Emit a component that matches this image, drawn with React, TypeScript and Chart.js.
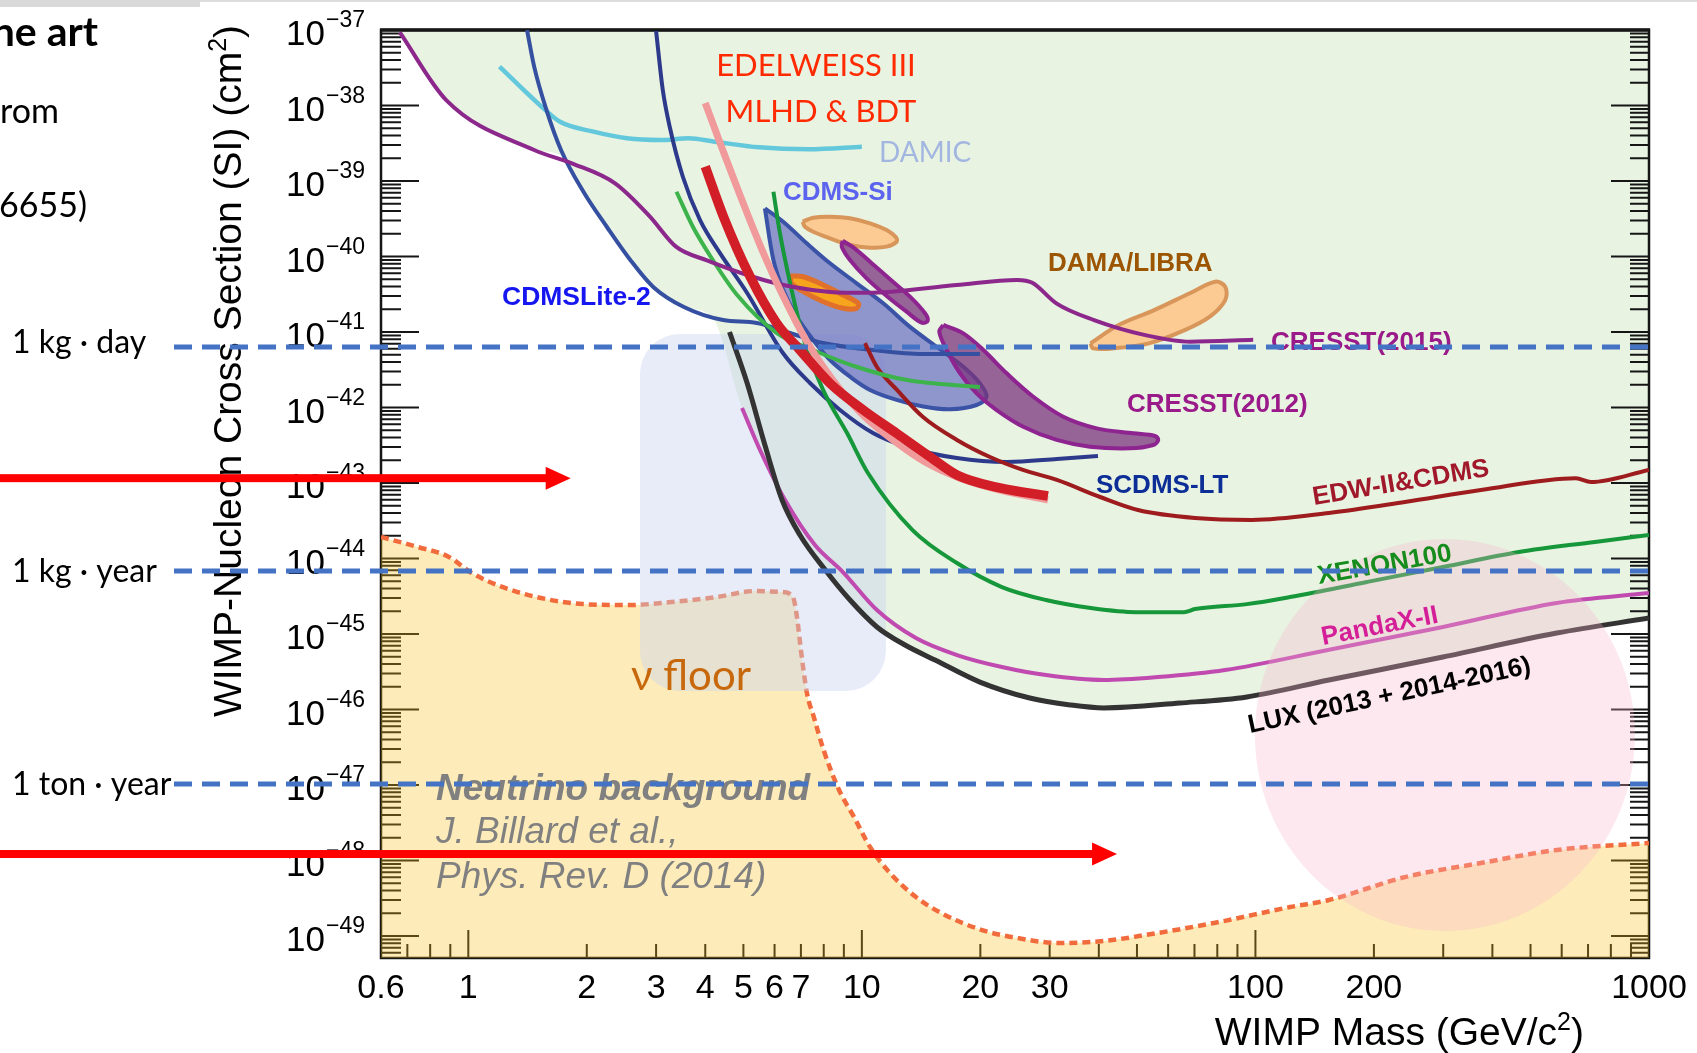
import { useEffect, useRef } from 'react';
import { Chart, registerables } from 'chart.js';

Chart.register(...registerables);

const CANVAS_W = 1697;
const CANVAS_H = 1053;
const ARIAL = '"Liberation Sans", Arial, sans-serif';
const CAL = 'Lato, "Open Sans", sans-serif';

// Axis limits: WIMP mass (GeV/c^2) and SI cross section (cm^2)
const massLimits = [0.6, 1000];
const sigmaLimits = [5.12e-50, 1e-37];

const massTickLabels = [0.6, 1, 2, 3, 4, 5, 6, 7, 10, 20, 30, 100, 200, 1000];
const sigmaTickExponents = [-37, -38, -39, -40, -41, -42, -43, -44, -45, -46, -47, -48, -49];

// Parameter space already excluded (lower envelope of the limits)
const excludedMass = [0.665, 0.88, 1.47, 1.75, 1.97, 2.25, 2.58, 2.95, 3.53, 4.16, 4.96, 5.51, 6.27, 6.96, 8.11, 9.33, 10.92, 12.87, 15.34, 19.95, 26.7, 33.8, 41.2, 64.3, 95.1, 153.7, 299.5, 583, 1000];
const excludedSigma = [1.0e-37, 1.17e-38, 2.57e-39, 2.09e-39, 6.93e-40, 2.46e-40, 9.0e-41, 3.95e-41, 2.14e-41, 1.58e-41, 9.8e-43, 2.74e-43, 5.96e-44, 2.05e-44, 6.83e-45, 2.82e-45, 1.24e-45, 7.15e-46, 4.53e-46, 2.31e-46, 1.42e-46, 1.15e-46, 1.05e-46, 1.22e-46, 1.47e-46, 2.46e-46, 4.96e-46, 1.03e-45, 1.63e-45];

// Neutrino background (Billard et al. 2014)
const floorMass = [0.6, 0.745, 0.893, 1.02, 1.22, 1.53, 1.96, 2.56, 3.27, 4.28, 5.35, 6.27, 6.68, 6.84, 7.0, 7.25, 7.55, 8.01, 8.75, 9.55, 10.49, 11.79, 13.72, 15.89, 20.2, 24.9, 31.7, 41.2, 52.4, 78.5, 122.4, 153.7, 239.8, 374, 583, 1000];
const floorSigma = [1.93e-44, 1.42e-44, 1.05e-44, 6.43e-45, 4.2e-45, 3.0e-45, 2.49e-45, 2.42e-45, 2.65e-45, 3.09e-45, 3.71e-45, 3.6e-45, 3.09e-45, 1.68e-45, 6.14e-46, 1.66e-46, 7.96e-47, 2.82e-47, 8.59e-48, 3.77e-48, 1.51e-48, 6.83e-49, 3.29e-49, 2.02e-49, 1.2e-49, 9.4e-50, 8.07e-50, 8.59e-50, 1.03e-49, 1.49e-49, 2.42e-49, 3.0e-49, 6.04e-49, 9.27e-49, 1.38e-48, 1.71e-48];

// Signal regions
const cdmsSiMass = [5.67, 6.31, 7.24, 8.30, 9.70, 11.33, 13.25, 15.49, 18.10, 19.95, 20.75, 19.57, 16.74, 14.32, 12.26, 10.49, 9.33, 8.30, 7.52, 6.83, 6.31, 5.96];
const cdmsSiSigma = [4.35e-40, 2.89e-40, 1.50e-40, 8.13e-41, 4.42e-41, 2.40e-41, 1.17e-41, 6.38e-42, 3.47e-42, 2.09e-42, 1.39e-42, 1.08e-42, 9.46e-43, 1.03e-42, 1.26e-42, 1.71e-42, 2.56e-42, 4.26e-42, 7.83e-42, 1.60e-41, 3.60e-41, 9.0e-41];

const damaLowMass = [7.07, 7.52, 8.30, 9.33, 10.49, 11.56, 12.21, 12.26, 11.56, 10.49, 9.33, 8.30, 7.52, 7.17];
const damaLowSigma = [2.89e-40, 3.27e-40, 3.37e-40, 3.21e-40, 2.75e-40, 2.24e-40, 1.79e-40, 1.57e-40, 1.35e-40, 1.31e-40, 1.42e-40, 1.74e-40, 2.13e-40, 2.48e-40];

const damaHighMass = [38.1, 44.9, 55.3, 68.1, 79.0, 83.8, 83.8, 76.6, 66.1, 53.6, 43.6, 38.7];
const damaHighSigma = [7.08e-42, 1.24e-41, 1.95e-41, 3.26e-41, 4.64e-41, 3.98e-41, 2.65e-41, 1.60e-41, 1.06e-41, 7.08e-42, 6.08e-42, 6.08e-42];

const cresst2012aMass = [8.94, 9.51, 10.49, 11.79, 13.25, 14.47, 14.70, 14.19, 12.99, 11.56, 10.28, 9.33, 8.89];
const cresst2012aSigma = [1.62e-40, 1.32e-40, 8.53e-41, 4.99e-41, 2.94e-41, 1.77e-41, 1.41e-41, 1.33e-41, 1.86e-41, 3.0e-41, 5.14e-41, 9.0e-41, 1.35e-40];

const cresst2012bMass = [16.10, 18.10, 20.35, 23.33, 27.26, 32.49, 39.51, 48.94, 55.55, 56.63, 55.0, 48.0, 37.98, 31.26, 25.71, 22.0, 19.57, 17.76, 16.43, 15.73];
const cresst2012bSigma = [1.24e-41, 9.6e-42, 5.78e-42, 2.84e-42, 1.39e-42, 7.55e-43, 5.3e-43, 4.55e-43, 4.2e-43, 3.72e-43, 3.19e-43, 2.88e-43, 3.03e-43, 3.72e-43, 5.57e-43, 9.27e-43, 1.54e-42, 2.84e-42, 5.78e-42, 1.01e-41];

const cogentMass = [6.57, 7.10, 7.98, 8.97, 9.79, 9.70, 8.97, 7.98, 7.10, 6.63];
const cogentSigma = [5.52e-41, 5.4e-41, 4.2e-41, 3.09e-41, 2.40e-41, 2.06e-41, 2.06e-41, 2.52e-41, 3.42e-41, 4.42e-41];

// Exclusion limits
const damicMass = [1.20, 1.57, 1.71, 2.08, 2.53, 3.07, 3.63, 4.22, 5.48, 7.34, 10.0];
const damicSigma = [3.27e-38, 8.7e-39, 6.1e-39, 4.5e-39, 3.68e-39, 3.49e-39, 3.68e-39, 3.32e-39, 2.79e-39, 2.63e-39, 2.84e-39];

const cdmsliteMass = [1.41, 1.47, 1.58, 1.72, 1.97, 2.25, 2.58, 2.95, 3.53, 4.44, 5.41, 6.57, 7.97, 10.67, 14.30, 19.95];
const cdmsliteSigma = [1.0e-37, 3.27e-38, 8.7e-39, 2.58e-39, 6.93e-40, 2.46e-40, 9.0e-41, 3.95e-41, 2.14e-41, 1.44e-41, 1.32e-41, 9.7e-42, 7.14e-42, 5.78e-42, 5.12e-42, 5.12e-42];

const scdmsLtMass = [3.0, 3.12, 3.25, 3.51, 3.88, 4.36, 5.11, 6.30, 7.38, 8.80, 10.67, 13.02, 17.44, 23.37, 31.3, 39.8];
const scdmsLtSigma = [9.7e-38, 1.60e-38, 5.19e-39, 1.13e-39, 3.04e-40, 1.11e-40, 3.29e-41, 5.27e-42, 2.11e-42, 9.27e-43, 4.59e-43, 3.0e-43, 2.14e-43, 1.90e-43, 2.08e-43, 2.28e-43];

const edwCdmsMass = [10.18, 10.92, 12.28, 14.30, 17.44, 21.16, 25.66, 31.3, 40.3, 50.3, 70.2, 98.0, 153.7, 239.8, 374, 652, 712, 1000];
const edwCdmsSigma = [7.14e-42, 3.44e-42, 1.71e-42, 7.48e-43, 3.72e-43, 2.21e-43, 1.49e-43, 1.10e-43, 6.53e-44, 4.39e-44, 3.44e-44, 3.24e-44, 4.01e-44, 5.60e-44, 8.07e-44, 1.16e-43, 1.03e-43, 1.49e-43];

const xenon10Mass = [3.38, 3.72, 4.18, 4.82, 6.08, 7.51, 9.72, 13.02, 19.95];
const xenon10Sigma = [7.21e-40, 2.48e-40, 9.0e-41, 3.09e-41, 9.7e-42, 5.78e-42, 3.44e-42, 2.31e-42, 1.87e-42];

const xenon100Mass = [5.96, 6.19, 6.57, 7.09, 7.97, 9.17, 10.36, 13.45, 17.44, 22.69, 29.36, 38.2, 49.7, 65.8, 70.2, 95.1, 122.4, 192, 299.5, 467, 729, 1000];
const xenon100Sigma = [7.21e-40, 2.05e-40, 4.46e-41, 8.59e-42, 1.71e-42, 4.59e-43, 1.36e-43, 2.38e-44, 8.71e-45, 4.19e-45, 2.82e-45, 2.21e-45, 1.95e-45, 1.95e-45, 2.14e-45, 2.49e-45, 3.09e-45, 4.89e-45, 7.71e-45, 1.22e-44, 1.66e-44, 2.05e-44];

const pandaxMass = [4.96, 5.51, 6.38, 7.60, 8.95, 10.92, 13.72, 17.44, 22.69, 29.36, 41.2, 56.5, 83.7, 152.8, 299.5, 583, 1000];
const pandaxSigma = [9.84e-43, 2.74e-43, 5.96e-44, 1.51e-44, 6.62e-45, 2.08e-45, 8.85e-46, 5.27e-46, 3.66e-46, 2.86e-46, 2.46e-46, 2.69e-46, 3.33e-46, 6.14e-46, 1.24e-45, 2.58e-45, 3.49e-45];

const luxMass = [4.61, 5.11, 5.67, 6.27, 6.96, 8.11, 9.33, 10.92, 12.87, 15.34, 19.95, 26.7, 33.8, 41.2, 64.3, 95.1, 153.7, 299.5, 583, 1000];
const luxSigma = [1.0e-41, 2.11e-42, 3.19e-43, 5.96e-44, 2.05e-44, 6.83e-45, 2.82e-45, 1.24e-45, 7.15e-46, 4.53e-46, 2.31e-46, 1.42e-46, 1.15e-46, 1.05e-46, 1.22e-46, 1.47e-46, 2.46e-46, 4.96e-46, 1.03e-45, 1.63e-45];

const cresst2015Mass = [0.67, 0.88, 1.47, 1.84, 2.36, 2.89, 3.37, 4.04, 5.28, 6.6, 8.3, 10.3, 17.4, 24.8, 27.1, 31.2, 38.9, 52.5, 68.2, 98.7];
const cresst2015Sigma = [9.3e-38, 1.17e-38, 2.57e-39, 1.70e-39, 9.3e-40, 3.4e-40, 1.35e-40, 8.9e-41, 5.4e-41, 4.0e-41, 3.4e-41, 3.3e-41, 4.2e-41, 4.9e-41, 4.5e-41, 2.4e-41, 1.44e-41, 9.1e-42, 7.45e-42, 7.9e-42];

const edwBdtMass = [4.0, 4.41, 4.90, 5.51, 6.27, 7.21, 8.44, 10.06, 12.28, 14.47, 17.75, 22.43, 29.7];
const edwBdtSigma = [1.08e-38, 2.74e-39, 6.53e-40, 1.42e-40, 3.18e-41, 7.83e-42, 2.31e-42, 7.96e-43, 3.39e-43, 1.90e-43, 1.16e-43, 8.07e-44, 5.96e-44];

const edwMlhdMass = [4.0, 4.45, 5.20, 6.08, 6.96, 8.30, 10.08, 12.26, 14.89, 17.44, 22.43, 29.7];
const edwMlhdSigma = [1.55e-39, 3.37e-40, 5.4e-41, 1.30e-41, 5.78e-42, 2.09e-42, 9.27e-43, 4.55e-43, 2.23e-43, 1.28e-43, 8.6e-44, 6.73e-44];

// Shaded boxes: neutrino-floor band and projected reach
const floorBoxMass = [2.73, 11.51];
const floorBoxSigma = [9.4e-42, 1.76e-46];
const haloCentre = [303, 4.59e-47];

// Exposure sensitivity levels
const exposureLabels = ['1 kg · day', '1 kg · year', '1 ton · year'];
const exposureSigma = [6.33e-42, 6.83e-45, 1.03e-47];
const exposureTextDy = [6, 11, 11];

// Arrows
const arrowSigma = [1.16e-43, 1.22e-48];
const arrowTipMass = [1.82, 44.5];

type Pt = { x: number; y: number };
const pts = (m: number[], s: number[]): Pt[] => m.map((x, i) => ({ x, y: s[i] }));
const closed = (m: number[], s: number[]): Pt[] => {
  const p = pts(m, s);
  return [...p, p[0]];
};

const curve = (label: string, m: number[], s: number[], color: string, width: number, extra: any = {}) => ({
  label,
  data: pts(m, s),
  borderColor: color,
  backgroundColor: color,
  borderWidth: width,
  fill: false,
  pointRadius: 0,
  cubicInterpolationMode: 'monotone',
  ...extra,
});

const region = (label: string, m: number[], s: number[], fillColor: string, lineColor: string, width: number) => ({
  label,
  data: closed(m, s),
  borderColor: lineColor,
  backgroundColor: fillColor,
  borderWidth: width,
  fill: 'shape',
  pointRadius: 0,
  tension: 0.35,
});

// Datasets listed bottom-to-top
const layers: any[] = [
  curve('Excluded', excludedMass, excludedSigma, 'rgba(0,0,0,0)', 1, { fill: 'end', backgroundColor: '#e8f3e2' }),
  curve('Neutrino floor', floorMass, floorSigma, '#f26b3d', 4.5, {
    fill: 'start',
    backgroundColor: 'rgba(248,192,22,0.3)',
    borderDash: [8, 5],
  }),
  region('CDMS-Si', cdmsSiMass, cdmsSiSigma, 'rgba(108,114,196,0.72)', '#3b53a6', 4),
  region('DAMA/LIBRA Na', damaLowMass, damaLowSigma, '#fccb93', '#d8965a', 4),
  region('DAMA/LIBRA I', damaHighMass, damaHighSigma, '#fccb93', '#d8965a', 4),
  region('CRESST(2012) M2', cresst2012aMass, cresst2012aSigma, 'rgba(123,52,125,0.75)', '#8e2490', 4),
  region('CRESST(2012) M1', cresst2012bMass, cresst2012bSigma, 'rgba(123,52,125,0.75)', '#8e2490', 4),
  region('CoGeNT', cogentMass, cogentSigma, '#f7a51d', '#e0702a', 5),
  curve('DAMIC', damicMass, damicSigma, '#64c8dc', 4.5),
  curve('CDMSLite-2', cdmsliteMass, cdmsliteSigma, '#3550a0', 4),
  curve('SCDMS-LT', scdmsLtMass, scdmsLtSigma, '#2d3a8c', 4),
  curve('EDW-II&CDMS', edwCdmsMass, edwCdmsSigma, '#9e1b1e', 4),
  curve('XENON10', xenon10Mass, xenon10Sigma, '#3cb44b', 4),
  curve('XENON100', xenon100Mass, xenon100Sigma, '#15973a', 4),
  curve('PandaX-II', pandaxMass, pandaxSigma, '#c04ab0', 4),
  curve('LUX', luxMass, luxSigma, '#333333', 5),
  curve('CRESST(2015)', cresst2015Mass, cresst2015Sigma, '#8c288c', 4),
  curve('EDELWEISS III BDT', edwBdtMass, edwBdtSigma, '#f19a9b', 7),
  curve('EDELWEISS III MLHD', edwMlhdMass, edwMlhdSigma, '#d21e26', 9.5),
];
layers.forEach((d, i) => {
  d.order = layers.length - i;
});

// Experiment and reference labels
const textLabels = [
  { text: 'EDELWEISS III', x: 816, y: 76, font: `31px ${CAL}`, color: '#ff2a00', align: 'center', angle: 0 },
  { text: 'MLHD & BDT', x: 821, y: 122, font: `31px ${CAL}`, color: '#ff2a00', align: 'center', angle: 0 },
  { text: 'DAMIC', x: 879, y: 162, font: `28px ${CAL}`, color: '#a2b6e0', align: 'left', angle: 0 },
  { text: 'CDMS-Si', x: 783, y: 200, font: `bold 26px ${ARIAL}`, color: '#5c63ee', align: 'left', angle: 0 },
  { text: 'DAMA/LIBRA', x: 1048, y: 271, font: `bold 26px ${ARIAL}`, color: '#9c5500', align: 'left', angle: 0 },
  { text: 'CDMSLite-2', x: 502, y: 305, font: `bold 26.5px ${ARIAL}`, color: '#1616f0', align: 'left', angle: 0 },
  { text: 'CRESST(2015)', x: 1271, y: 350, font: `bold 26px ${ARIAL}`, color: '#9a1a8a', align: 'left', angle: 0 },
  { text: 'CRESST(2012)', x: 1127, y: 412, font: `bold 26px ${ARIAL}`, color: '#9a1a8a', align: 'left', angle: 0 },
  { text: 'SCDMS-LT', x: 1096, y: 493, font: `bold 26px ${ARIAL}`, color: '#0c2e96', align: 'left', angle: 0 },
  { text: 'EDW-II&CDMS', x: 1314, y: 505, font: `bold 26px ${ARIAL}`, color: '#a0182a', align: 'left', angle: -9.5 },
  { text: 'XENON100', x: 1319, y: 584, font: `bold 26px ${ARIAL}`, color: '#168c1c', align: 'left', angle: -10 },
  { text: 'PandaX-II', x: 1323, y: 645, font: `bold 26px ${ARIAL}`, color: '#d41f98', align: 'left', angle: -11 },
  { text: 'LUX (2013 + 2014-2016)', x: 1250, y: 733, font: `bold 26px ${ARIAL}`, color: '#000000', align: 'left', angle: -12 },
  { text: 'ν floor', x: 631, y: 690, font: `42px ${CAL}`, color: '#c8680c', align: 'left', angle: 0 },
  { text: 'Neutrino background', x: 436, y: 800, font: `italic bold 37px ${ARIAL}`, color: '#808080', align: 'left', angle: 0 },
  { text: 'J. Billard et al.,', x: 436, y: 843, font: `italic 37px ${ARIAL}`, color: '#808080', align: 'left', angle: 0 },
  { text: 'Phys. Rev. D (2014)', x: 436, y: 888, font: `italic 37px ${ARIAL}`, color: '#808080', align: 'left', angle: 0 },
];

function drawRich(ctx: CanvasRenderingContext2D, parts: { t: string; sup?: boolean }[], x: number, y: number, size: number, supSize: number, rise: number, align: string) {
  const base = `${size}px ${ARIAL}`;
  const small = `${supSize}px ${ARIAL}`;
  const widths = parts.map((p) => {
    ctx.font = p.sup ? small : base;
    return ctx.measureText(p.t).width;
  });
  const total = widths.reduce((a, b) => a + b, 0);
  let cx = align === 'right' ? x - total : align === 'center' ? x - total / 2 : x;
  ctx.textAlign = 'left';
  parts.forEach((p, i) => {
    ctx.font = p.sup ? small : base;
    ctx.fillText(p.t, cx, p.sup ? y - rise : y);
    cx += widths[i];
  });
}

function drawAxesFrame(chart: any) {
  const { ctx, chartArea: a } = chart;
  const xs = chart.scales.x;
  const ys = chart.scales.y;
  ctx.save();
  ctx.strokeStyle = '#161616';
  ctx.lineWidth = 2;
  ctx.beginPath();
  for (let e = -50; e <= -37; e++) {
    for (let k = 1; k <= 9; k++) {
      const v = k * Math.pow(10, e);
      if (v < sigmaLimits[0] * 1.0001 || v > sigmaLimits[1] * 1.0001) continue;
      const p = ys.getPixelForValue(v);
      const major = k === 1;
      ctx.moveTo(a.left, p);
      ctx.lineTo(a.left + (major ? 38 : 20), p);
      ctx.moveTo(a.right, p);
      ctx.lineTo(a.right - (major ? 38 : 19), p);
    }
  }
  for (let e = -1; e <= 3; e++) {
    for (let k = 1; k <= 9; k++) {
      const v = k * Math.pow(10, e);
      if (v <= massLimits[0] * 1.0001 || v >= massLimits[1] * 0.9999) continue;
      const p = xs.getPixelForValue(v);
      ctx.moveTo(p, a.bottom);
      ctx.lineTo(p, a.bottom - (k === 1 ? 28 : 14));
    }
  }
  ctx.stroke();
  ctx.lineWidth = 2.5;
  ctx.strokeRect(a.left, a.top, a.right - a.left, a.bottom - a.top);
  ctx.lineWidth = 3.5;
  ctx.beginPath();
  ctx.moveTo(a.left - 1, a.top);
  ctx.lineTo(a.right + 1, a.top);
  ctx.stroke();
  ctx.restore();
}

function drawFloorBox(chart: any) {
  const { ctx } = chart;
  const xs = chart.scales.x;
  const ys = chart.scales.y;
  const l = xs.getPixelForValue(floorBoxMass[0]);
  const r = xs.getPixelForValue(floorBoxMass[1]);
  const t = ys.getPixelForValue(floorBoxSigma[0]);
  const b = ys.getPixelForValue(floorBoxSigma[1]);
  const rad = 40;
  ctx.save();
  ctx.fillStyle = 'rgba(198,210,238,0.42)';
  ctx.beginPath();
  ctx.moveTo(l + rad, t);
  ctx.lineTo(r - rad, t);
  ctx.arcTo(r, t, r, t + rad, rad);
  ctx.lineTo(r, b - rad);
  ctx.arcTo(r, b, r - rad, b, rad);
  ctx.lineTo(l + rad, b);
  ctx.arcTo(l, b, l, b - rad, rad);
  ctx.lineTo(l, t + rad);
  ctx.arcTo(l, t, l + rad, t, rad);
  ctx.closePath();
  ctx.fill();
  ctx.restore();
}

const decorPlugin = {
  id: 'wimpDecor',
  beforeDraw(chart: any) {
    const { ctx } = chart;
    ctx.save();
    ctx.fillStyle = '#d9d9d9';
    ctx.fillRect(0, 0, 200, 7);
    ctx.fillStyle = '#dcdcdc';
    ctx.fillRect(200, 0, CANVAS_W - 200, 2);
    ctx.restore();
  },
  afterDatasetDraw(chart: any, args: any) {
    const ds = chart.data.datasets[args.index];
    if (ds.label === 'Excluded') drawAxesFrame(chart);
    if (ds.label === 'Neutrino floor') drawFloorBox(chart);
  },
  afterDatasetsDraw(chart: any) {
    const { ctx, chartArea: a } = chart;
    const xs = chart.scales.x;
    const ys = chart.scales.y;
    ctx.save();

    // projected sensitivity halo
    ctx.fillStyle = 'rgba(248,178,206,0.3)';
    ctx.beginPath();
    ctx.ellipse(xs.getPixelForValue(haloCentre[0]), ys.getPixelForValue(haloCentre[1]), 190, 196, 0, 0, Math.PI * 2);
    ctx.fill();

    // tick labels
    ctx.fillStyle = '#000';
    ctx.textBaseline = 'alphabetic';
    sigmaTickExponents.forEach((e) => {
      const p = ys.getPixelForValue(Math.pow(10, e));
      ctx.font = `35px ${ARIAL}`;
      ctx.textAlign = 'right';
      ctx.fillText('10', 325, p + 15);
      ctx.font = `23px ${ARIAL}`;
      ctx.textAlign = 'left';
      ctx.fillText('\u2212' + Math.abs(e), 326, p - 3);
    });
    ctx.font = `34px ${ARIAL}`;
    ctx.textAlign = 'center';
    massTickLabels.forEach((m) => {
      ctx.fillText(String(m), xs.getPixelForValue(m), 998);
    });

    // axis titles
    drawRich(ctx, [{ t: 'WIMP Mass (GeV/c' }, { t: '2', sup: true }, { t: ')' }], 1584, 1045, 39, 25, 15, 'right');
    ctx.save();
    ctx.translate(241, 371);
    ctx.rotate(-Math.PI / 2);
    drawRich(ctx, [{ t: 'WIMP-Nucleon Cross Section (SI) (cm' }, { t: '2', sup: true }, { t: ')' }], 0, 0, 39, 25, 15, 'center');
    ctx.restore();

    // surrounding slide text
    ctx.fillStyle = '#000';
    ctx.textAlign = 'right';
    ctx.font = `bold 41px ${CAL}`;
    ctx.fillText('the art', 98, 46);
    ctx.font = `34px ${CAL}`;
    ctx.fillText('from', 59, 123);
    ctx.fillText('6655)', 87, 217);

    // experiment labels
    textLabels.forEach((l) => {
      ctx.save();
      ctx.translate(l.x, l.y);
      if (l.angle) ctx.rotate((l.angle * Math.PI) / 180);
      ctx.font = l.font;
      ctx.fillStyle = l.color;
      ctx.textAlign = l.align as CanvasTextAlign;
      ctx.fillText(l.text, 0, 0);
      ctx.restore();
    });

    // exposure levels
    ctx.font = `32px ${CAL}`;
    ctx.fillStyle = '#000';
    ctx.textAlign = 'left';
    exposureSigma.forEach((s, i) => {
      const p = ys.getPixelForValue(s);
      ctx.fillText(exposureLabels[i], 12, p + exposureTextDy[i]);
    });
    ctx.strokeStyle = '#4472c4';
    ctx.lineWidth = 5;
    ctx.setLineDash([18, 10]);
    exposureSigma.forEach((s) => {
      const p = ys.getPixelForValue(s);
      ctx.beginPath();
      ctx.moveTo(174, p);
      ctx.lineTo(a.right, p);
      ctx.stroke();
    });
    ctx.setLineDash([]);

    // arrows
    ctx.fillStyle = '#ff0000';
    arrowSigma.forEach((s, i) => {
      const p = ys.getPixelForValue(s);
      const tip = xs.getPixelForValue(arrowTipMass[i]);
      ctx.fillRect(0, p - 4, tip - 22, 8);
      ctx.beginPath();
      ctx.moveTo(tip - 25, p - 11.5);
      ctx.lineTo(tip, p);
      ctx.lineTo(tip - 25, p + 11.5);
      ctx.closePath();
      ctx.fill();
    });
    ctx.restore();
  },
};

export default function App() {
  const ref = useRef<HTMLCanvasElement>(null);

  useEffect(() => {
    const canvas = ref.current;
    if (!canvas) return;
    const chart = new Chart(canvas, {
      type: 'line',
      data: { datasets: layers },
      options: {
        responsive: false,
        animation: false,
        events: [],
        layout: { padding: { left: 381, right: CANVAS_W - 1649, top: 30, bottom: CANVAS_H - 958 } },
        plugins: {
          legend: { display: false },
          tooltip: { enabled: false },
          title: { display: false },
        },
        scales: {
          x: { type: 'logarithmic', min: massLimits[0], max: massLimits[1], display: false, bounds: 'data' },
          y: { type: 'logarithmic', min: sigmaLimits[0], max: sigmaLimits[1], display: false, bounds: 'data' },
        },
        elements: { point: { radius: 0, hitRadius: 0 } },
      } as any,
      plugins: [decorPlugin],
    });
    return () => chart.destroy();
  }, []);

  return (
    <div style={{ position: 'fixed', left: 0, top: 0, width: CANVAS_W, height: CANVAS_H, background: '#ffffff' }}>
      <canvas ref={ref} width={CANVAS_W} height={CANVAS_H} style={{ display: 'block', width: CANVAS_W, height: CANVAS_H }} />
    </div>
  );
}
